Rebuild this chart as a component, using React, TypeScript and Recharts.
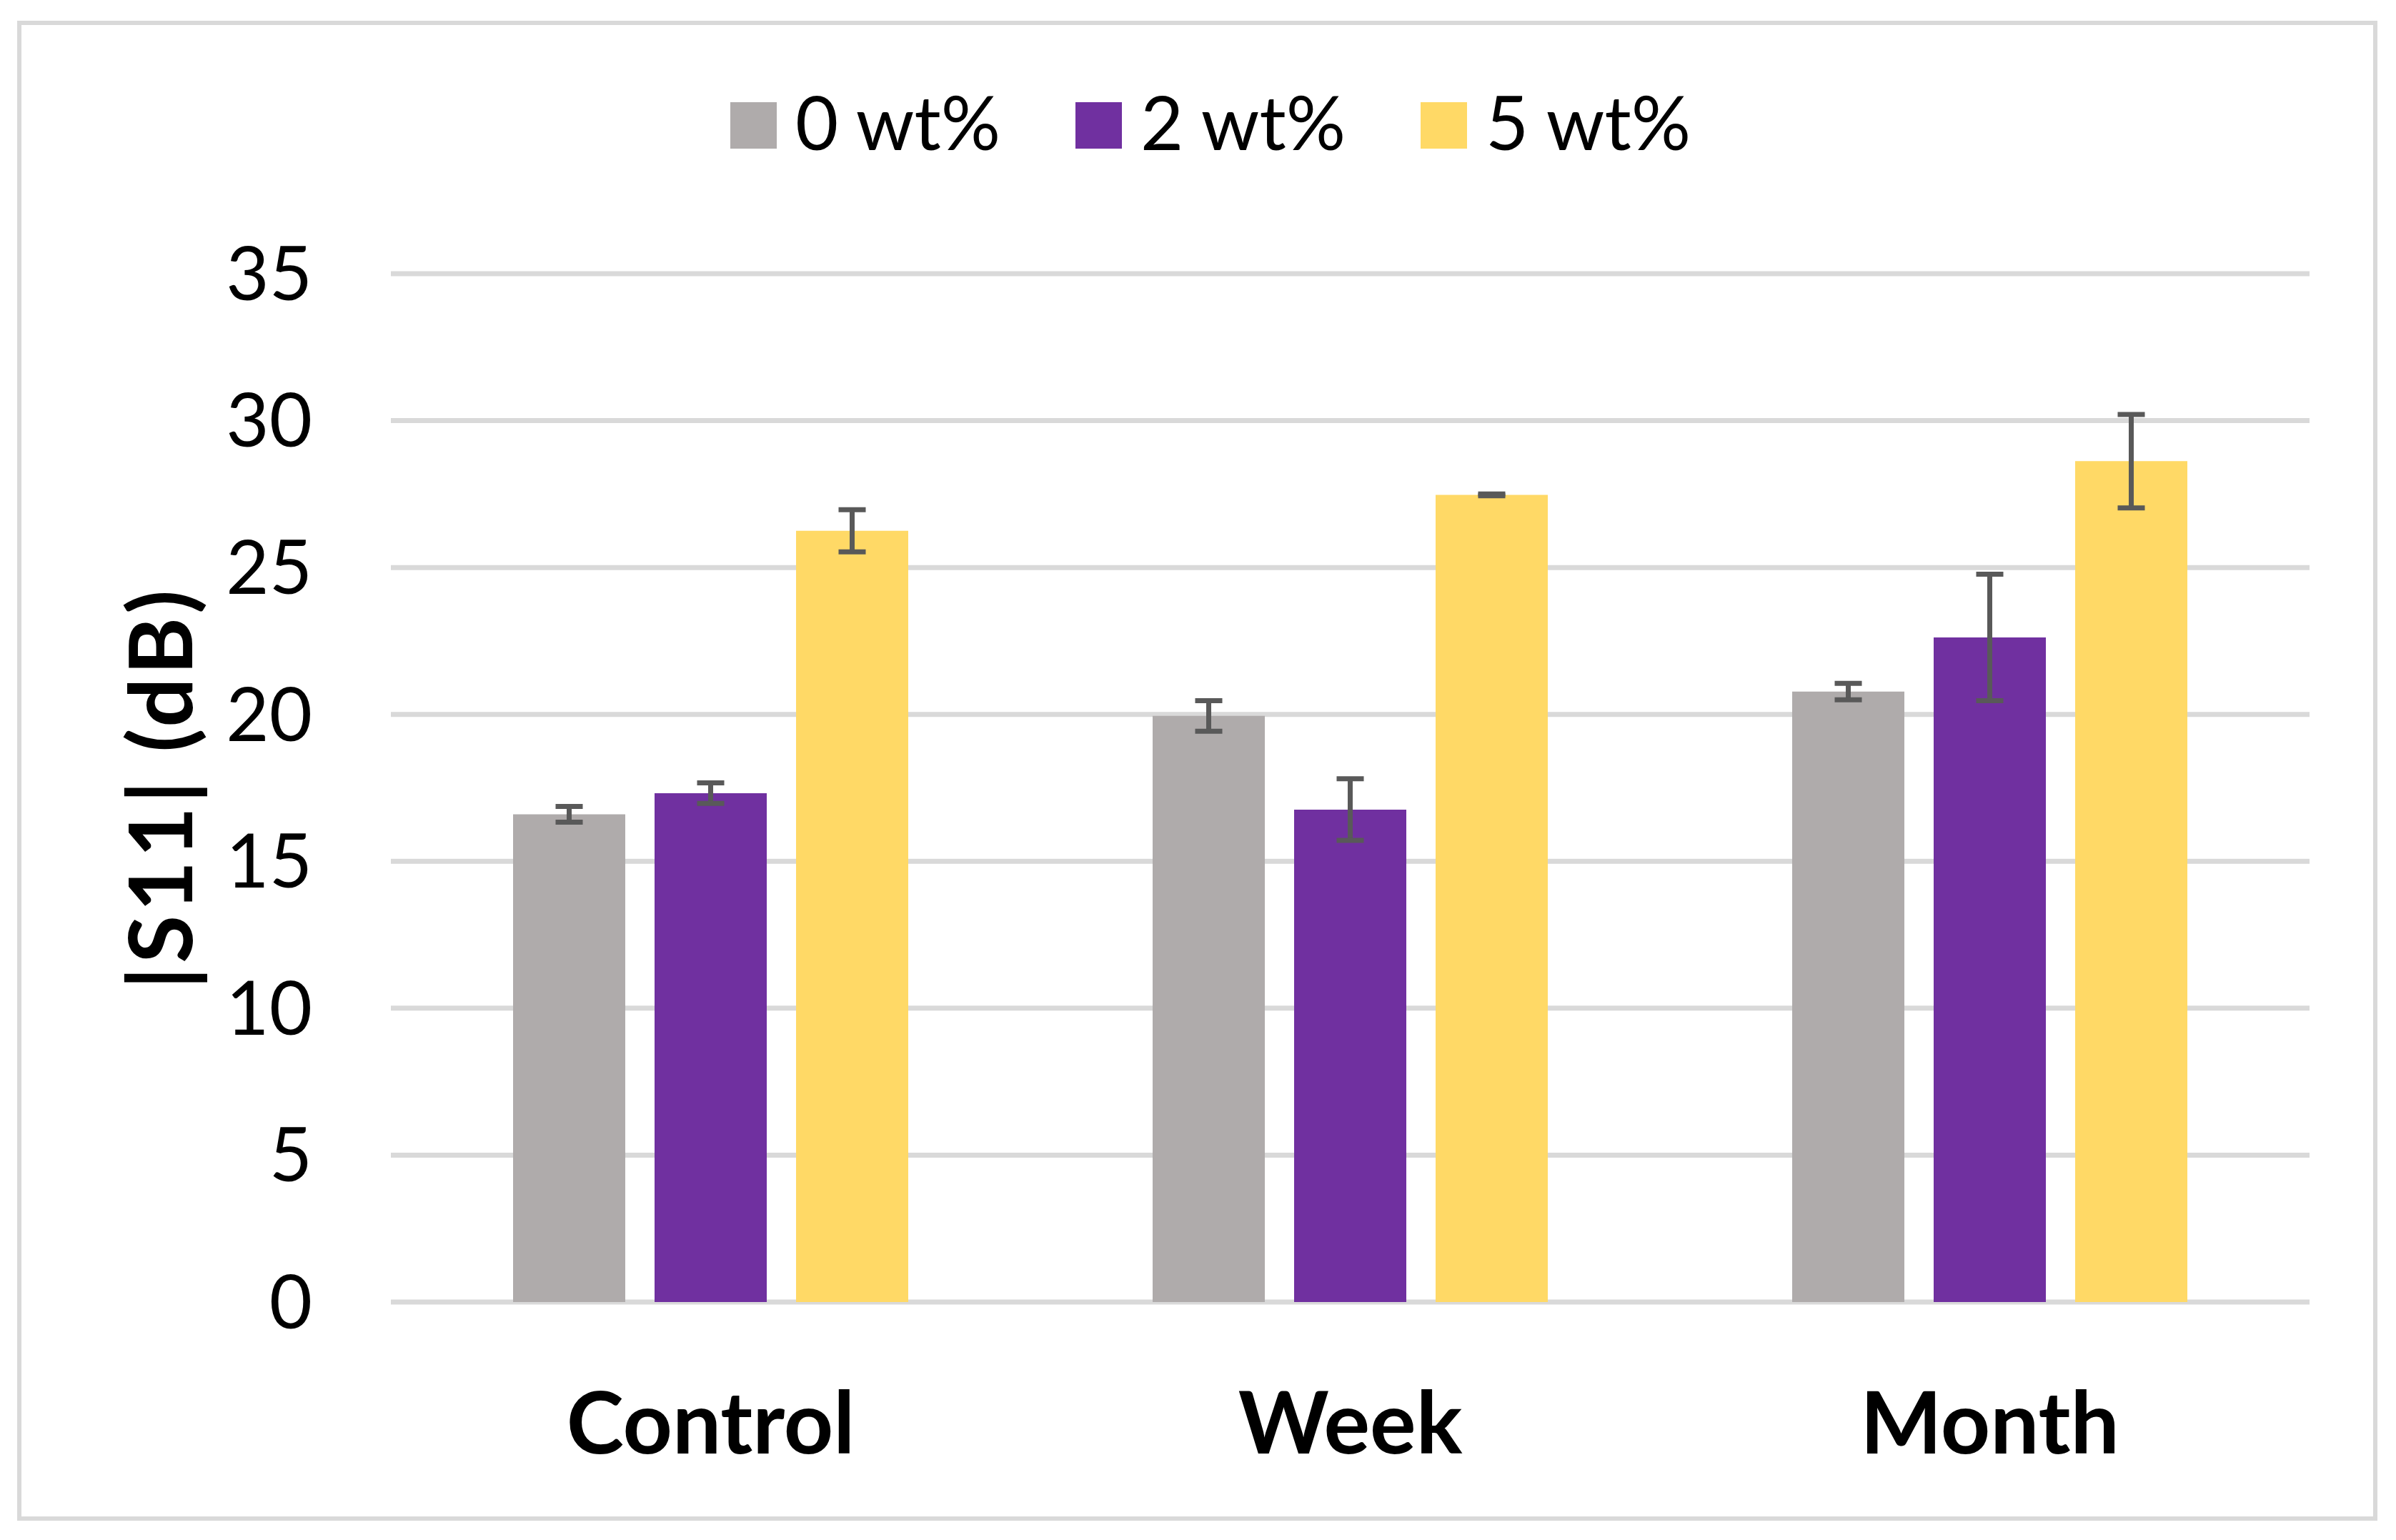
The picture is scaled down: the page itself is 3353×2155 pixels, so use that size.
import { Bar, BarChart, CartesianGrid, ErrorBar, Legend, XAxis, YAxis } from "recharts";

const categories = ["Control", "Week", "Month"];
const seriesNames = ["0 wt%", "2 wt%", "5 wt%"];
const colors = ["#AFABAB", "#7030A0", "#FFD966"];

// |S11| means and their error bars
const s0 = [16.6, 19.95, 20.78];
const e0 = [0.27, 0.52, 0.28];
const s2 = [17.32, 16.76, 22.62];
const e2 = [0.35, 1.05, 2.15];
const s5 = [26.25, 27.47, 28.62];
const e5 = [0.72, 0.03, 1.59];
const yTicks = [0, 5, 10, 15, 20, 25, 30, 35];

const data = categories.map((name, i) => ({
  name,
  s0: s0[i],
  e0: e0[i],
  s2: s2[i],
  e2: e2[i],
  s5: s5[i],
  e5: e5[i],
}));

function LegendBox({ payload }: any) {
  return (
    <div style={{ height: 383, position: "relative" }}>
      <div style={{ position: "absolute", top: 143, left: 1022, display: "flex" }}>
        {(payload || []).map((p: any) => (
          <div key={p.value} style={{ width: 483, display: "flex", alignItems: "center", height: 65 }}>
            <span style={{ width: 65, height: 65, background: p.color, marginRight: 26, flex: "none" }} />
            <span style={{ fontSize: 104, lineHeight: "65px", color: "#000", position: "relative", top: -6 }}>
              {p.value}
            </span>
          </div>
        ))}
      </div>
    </div>
  );
}

function YTitle({ viewBox }: any) {
  const cx = viewBox.x + viewBox.width / 2 - 52;
  const cy = viewBox.y + viewBox.height / 2;
  return (
    <text
      x={cx}
      y={cy}
      transform={`rotate(-90, ${cx}, ${cy})`}
      textAnchor="middle"
      dominantBaseline="central"
      fontSize={122}
      fontWeight={700}
      letterSpacing={5}
      fill="#000"
    >
      |S11| (dB)
    </text>
  );
}

export default function App() {
  const grid = "#D9D9D9";
  return (
    <div
      style={{
        position: "absolute",
        left: 0,
        top: 0,
        width: 3353,
        height: 2155,
        background: "#fff",
        fontFamily: "Lato, sans-serif",
      }}
    >
      <div
        style={{
          position: "absolute",
          left: 24,
          top: 29,
          width: 3303,
          height: 2099,
          border: `6px solid ${grid}`,
          boxSizing: "border-box",
        }}
      />
      <BarChart
        width={3353}
        height={2155}
        data={data}
        margin={{ top: 0, right: 121, bottom: 0, left: 0 }}
        barSize={157}
        barGap={41}
      >
        <CartesianGrid stroke={grid} strokeWidth={7} vertical={false} />
        <Legend verticalAlign="top" align="left" content={<LegendBox />} wrapperStyle={{ top: 0, left: 0, width: 3353 }} />
        <XAxis
          dataKey="name"
          axisLine={false}
          tickLine={false}
          tickSize={0}
          tickMargin={126}
          height={333}
          tick={{ fontSize: 121, fontWeight: 700, fill: "#000" }}
          interval={0}
        />
        <YAxis
          domain={[0, 35]}
          ticks={yTicks}
          axisLine={false}
          tickLine={false}
          tickSize={0}
          tickMargin={110}
          width={547}
          tick={{ fontSize: 104, fill: "#000" }}
          label={<YTitle />}
        />
        <Bar dataKey="s0" name={seriesNames[0]} fill={colors[0]} isAnimationActive={false}>
          <ErrorBar dataKey="e0" width={19} strokeWidth={7} stroke="#595959" direction="y" />
        </Bar>
        <Bar dataKey="s2" name={seriesNames[1]} fill={colors[1]} isAnimationActive={false}>
          <ErrorBar dataKey="e2" width={19} strokeWidth={7} stroke="#595959" direction="y" />
        </Bar>
        <Bar dataKey="s5" name={seriesNames[2]} fill={colors[2]} isAnimationActive={false}>
          <ErrorBar dataKey="e5" width={19} strokeWidth={7} stroke="#595959" direction="y" />
        </Bar>
      </BarChart>
    </div>
  );
}
